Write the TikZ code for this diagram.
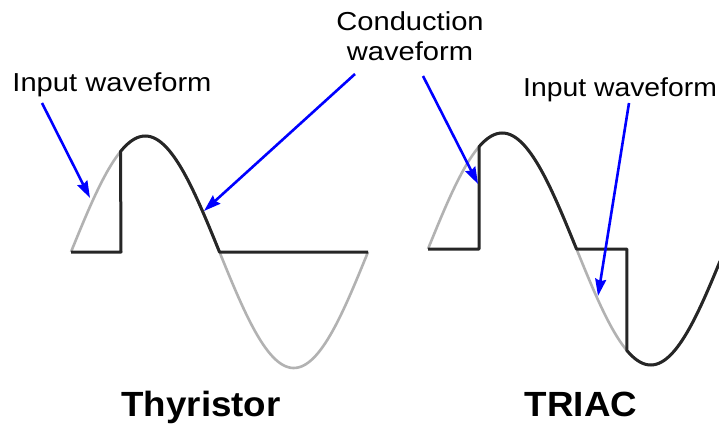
\documentclass[tikz,border=0pt]{standalone}
\usepackage{fontspec}
\setmainfont{Liberation Sans}
\usetikzlibrary{arrows.meta}
\newcommand\widetext[2]{\scalebox{#1}[1]{#2}}
\begin{document}
\begin{tikzpicture}[x=1pt,y=-1pt,
  lbl/.style={inner sep=0pt,anchor=base,font=\fontsize{26}{30}\selectfont},
  title/.style={inner sep=0pt,anchor=base,font=\fontsize{35}{40}\selectfont\bfseries},
  inwave/.style={line width=2.6pt,color=black!30},
  outwave/.style={line width=3pt,color=black!85,line join=round},
  pointer/.style={line width=2.6pt,color=blue,-{Stealth[length=17pt,width=11pt,inset=2pt]}}]
\useasboundingbox (0,0) rectangle (719,425);
\fill[white] (0,0) rectangle (719,425);
\begin{scope}
\clip (0,0) rectangle (719,425);
% ---- Thyristor ----
\draw[inwave] plot[domain=0:360,samples=120] ({71+\x/360*297},{252-116*sin(\x)});
\draw[outwave] (71,252) -- (121,252) -- ({71+60/360*297},{252-116*sin(60)})
  -- plot[domain=60:180,samples=60] ({71+\x/360*297},{252-116*sin(\x)}) -- (368,252);
% ---- TRIAC ----
\draw[inwave] plot[domain=0:354,samples=120] ({428+\x/360*297},{249-116*sin(\x)});
\draw[outwave] (428,249) -- ({428+62/360*297},249) -- ({428+62/360*297},{249-116*sin(62)})
  -- plot[domain=62:180,samples=60] ({428+\x/360*297},{249-116*sin(\x)})
  -- ({428+241/360*297},249) -- ({428+241/360*297},{249-116*sin(241)})
  -- plot[domain=241:354,samples=60] ({428+\x/360*297},{249-116*sin(\x)});
\end{scope}
% ---- labels ----
\node[lbl] (in1) at (112,92) {\widetext{1.12}{Input waveform}};
\node[lbl] (cond1) at (410,31) {\widetext{1.12}{Conduction}};
\node[lbl] (cond2) at (410,61) {\widetext{1.12}{waveform}};
\node[lbl,anchor=base west] (in2) at (523,97) {\widetext{1.09}{Input waveform}};
\node[title] (thy) at (201,416) {\widetext{1.05}{Thyristor}};
\node[title] (tri) at (581,416) {\widetext{1.05}{TRIAC}};
% ---- arrows ----
\coordinate (a1s) at (42,103);  \coordinate (a1e) at (90,198);
\coordinate (a2s) at (355,74);  \coordinate (a2e) at (204,211);
\coordinate (a3s) at (423,76);  \coordinate (a3e) at (478,184);
\coordinate (a4s) at (629,103); \coordinate (a4e) at (598,296);
\draw[pointer] (a1s) -- (a1e);
\draw[pointer] (a2s) -- (a2e);
\draw[pointer] (a3s) -- (a3e);
\draw[pointer] (a4s) -- (a4e);
\end{tikzpicture}
\end{document}
